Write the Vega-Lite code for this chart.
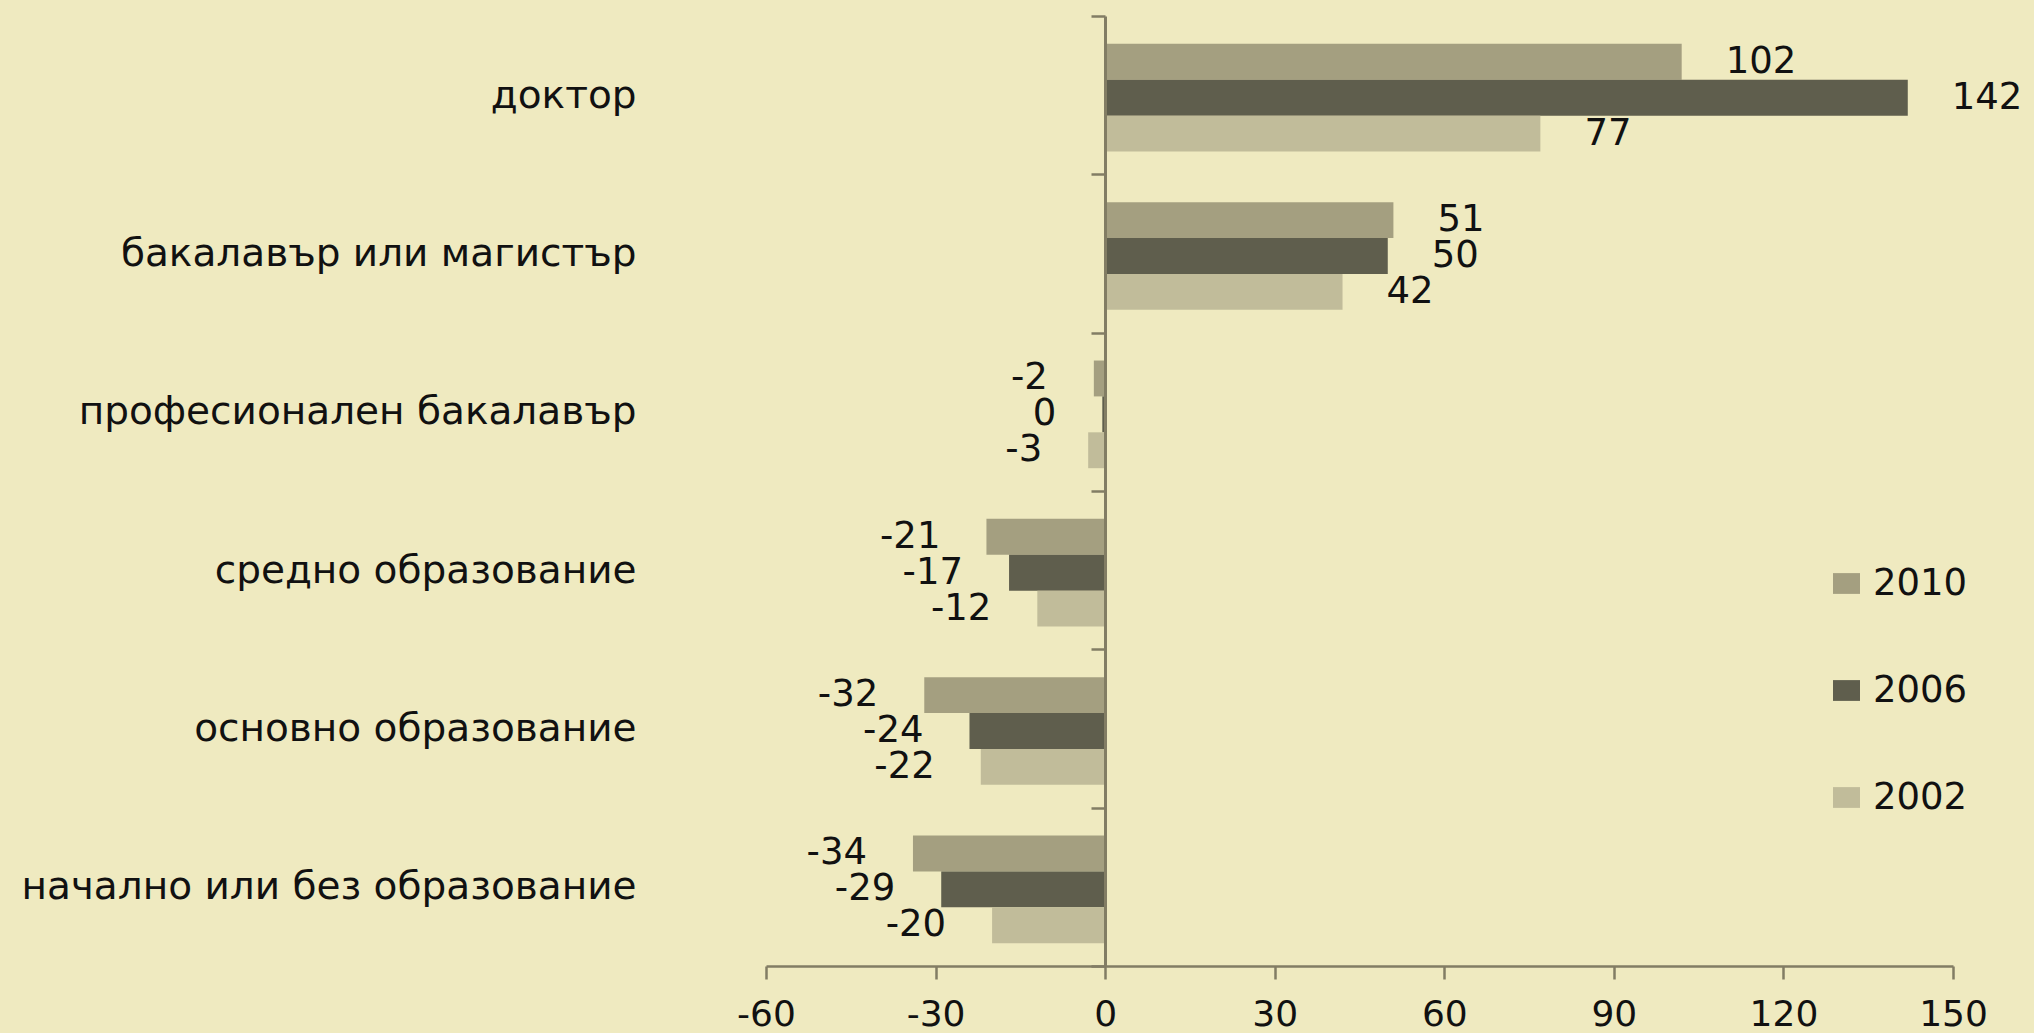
{
  "$schema": "https://vega.github.io/schema/vega-lite/v6.json",
  "autosize": {"type": "none"},
  "padding": {"left": 766, "top": 16, "right": 81, "bottom": 67},
  "width": 1187,
  "height": 950,
  "background": "#EFEAC0",
  "config": {"view": {"stroke": null}, "font": "DejaVu Sans"},
  "data": {"values": [
    {"cat": "доктор", "yr": "2010", "v": 102, "lbl": "102"},
    {"cat": "доктор", "yr": "2006", "v": 142, "lbl": "142"},
    {"cat": "доктор", "yr": "2002", "v": 77, "lbl": "77"},
    {"cat": "бакалавър или магистър", "yr": "2010", "v": 51, "lbl": "51"},
    {"cat": "бакалавър или магистър", "yr": "2006", "v": 50, "lbl": "50"},
    {"cat": "бакалавър или магистър", "yr": "2002", "v": 42, "lbl": "42"},
    {"cat": "професионален бакалавър", "yr": "2010", "v": -2, "lbl": "-2"},
    {"cat": "професионален бакалавър", "yr": "2006", "v": -0.5, "lbl": "0"},
    {"cat": "професионален бакалавър", "yr": "2002", "v": -3, "lbl": "-3"},
    {"cat": "средно образование", "yr": "2010", "v": -21, "lbl": "-21"},
    {"cat": "средно образование", "yr": "2006", "v": -17, "lbl": "-17"},
    {"cat": "средно образование", "yr": "2002", "v": -12, "lbl": "-12"},
    {"cat": "основно образование", "yr": "2010", "v": -32, "lbl": "-32"},
    {"cat": "основно образование", "yr": "2006", "v": -24, "lbl": "-24"},
    {"cat": "основно образование", "yr": "2002", "v": -22, "lbl": "-22"},
    {"cat": "начално или без образование", "yr": "2010", "v": -34, "lbl": "-34"},
    {"cat": "начално или без образование", "yr": "2006", "v": -29, "lbl": "-29"},
    {"cat": "начално или без образование", "yr": "2002", "v": -20, "lbl": "-20"}
  ]},
  "encoding": {
    "y": {
      "field": "cat", "type": "nominal",
      "sort": ["доктор", "бакалавър или магистър", "професионален бакалавър", "средно образование", "основно образование", "начално или без образование"],
      "scale": {"paddingInner": 0, "paddingOuter": 0},
      "axis": {
        "title": null, "orient": "left", "offset": -339,
        "domainColor": "#827D64", "domainWidth": 3,
        "tickColor": "#827D64", "tickWidth": 2.5, "tickSize": 14, "tickBand": "extent",
        "labelPadding": 455, "labelFontSize": 39, "labelColor": "#111111", "labelLimit": 0,
        "zindex": 1
      }
    },
    "yOffset": {"field": "yr", "type": "nominal", "sort": ["2010", "2006", "2002"], "scale": {"paddingInner": 0, "paddingOuter": 0.706, "align": 0.55}},
    "x": {
      "field": "v", "type": "quantitative",
      "scale": {"domain": [-60, 150], "nice": false, "zero": false},
      "axis": {
        "title": null, "values": [-60, -30, 0, 30, 60, 90, 120, 150], "grid": false,
        "labelExpr": "replace(datum.label, '−', '-')",
        "domainColor": "#827D64", "domainWidth": 2.5,
        "tickColor": "#827D64", "tickWidth": 2.5, "tickSize": 13,
        "labelPadding": 18, "labelFontSize": 36, "labelColor": "#111111",
        "labelFlush": false, "labelOverlap": false, "zindex": 1
      }
    }
  },
  "layer": [
    {
      "mark": {"type": "bar"},
      "encoding": {
        "color": {
          "field": "yr", "type": "nominal",
          "scale": {"domain": ["2010", "2006", "2002"], "range": ["#A49F80", "#5F5E4D", "#C1BC9A"]},
          "legend": {
            "title": null, "orient": "none", "legendX": 1062, "legendY": 549, "direction": "vertical",
            "symbolType": "M-1,-0.77H1V0.77H-1Z", "symbolSize": 729, "symbolStrokeWidth": 0,
            "labelFontSize": 37, "labelOffset": 8, "rowPadding": 69, "padding": 0, "labelColor": "#111111"
          }
        }
      }
    },
    {
      "transform": [{"filter": "datum.v > 0"}],
      "mark": {"type": "text", "align": "left", "baseline": "middle", "dx": 44, "fontSize": 37, "color": "#111111"},
      "encoding": {"text": {"field": "lbl", "type": "nominal"}}
    },
    {
      "transform": [{"filter": "datum.v <= 0"}],
      "mark": {"type": "text", "align": "right", "baseline": "middle", "dx": -46, "fontSize": 37, "color": "#111111"},
      "encoding": {"text": {"field": "lbl", "type": "nominal"}}
    }
  ]
}
